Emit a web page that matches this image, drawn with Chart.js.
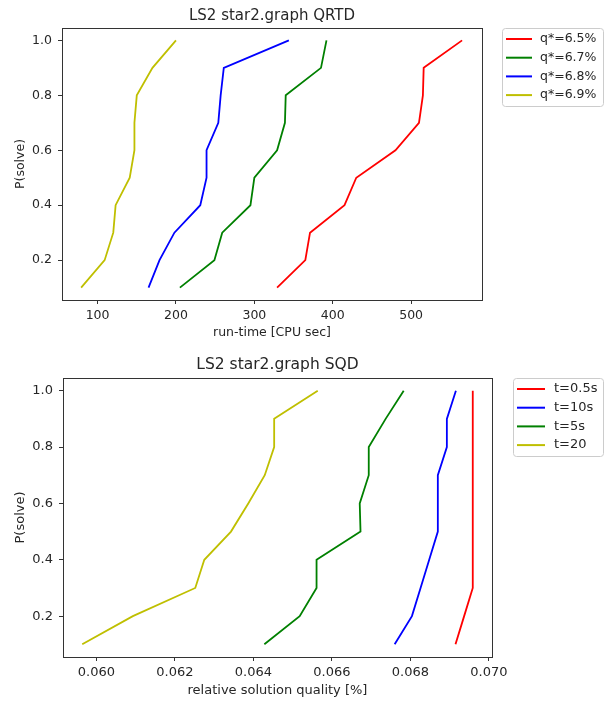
<!DOCTYPE html>
<html><head><meta charset="utf-8">
<script src="https://cdn.jsdelivr.net/npm/chart.js@4.4.1/dist/chart.umd.min.js"></script>
<style>
html,body{margin:0;padding:0;background:#fff;}
canvas{position:absolute;left:0;}
</style></head><body>
<canvas id="qrtd" width="608" height="350" style="top:0"></canvas>
<canvas id="sqd" width="608" height="352" style="top:350px"></canvas>
<script>
// P(solve) levels shared by every curve
const pLevels=[0.1,0.2,0.3,0.4,0.5,0.6,0.7,0.8,0.9,1.0];
const yTicks=[0.2,0.4,0.6,0.8,1.0];

// QRTD: run-time [CPU sec]
const qrtdLabels=['q*=6.5%','q*=6.7%','q*=6.8%','q*=6.9%'];
const q65=[329,365,371,415,430,480,510,515,516,565];
const q67=[205,249,259,295,300,329,339,340,385,392];
const q68=[165,179,198,231,239,239,254,257,261,344];
const q69=[79,109,120,123,141,147,147,150,170,200];
const qrtdTicks=[100,200,300,400,500];

// SQD: relative solution quality [%]
const sqdLabels=['t=0.5s','t=10s','t=5s','t=20'];
const t05=[0.06915,0.06937,0.06959,0.06959,0.06959,0.06959,0.06959,0.06959,0.06959,0.06959];
const t10=[0.06760,0.06804,0.06826,0.06848,0.06870,0.06870,0.06870,0.06893,0.06893,0.06916];
const t5=[0.06428,0.06518,0.06561,0.06561,0.06673,0.06671,0.06694,0.06694,0.06737,0.06783];
const t20=[0.05964,0.06093,0.06252,0.06275,0.06343,0.06387,0.06429,0.06453,0.06453,0.06564];
const sqdTicks=[0.060,0.062,0.064,0.066,0.068,0.070];

const RED='#ff0000',GREEN='#008000',BLUE='#0000ff',YEL='#bfbf00';
const FONT='"DejaVu Sans", sans-serif';
const TXT='#262626';

function series(label,xs,color){
  return {label,data:xs.map((x,i)=>({x,y:pLevels[i]})),borderColor:color,backgroundColor:color,
    borderWidth:1.8,showLine:true,pointRadius:0,tension:0,fill:false};
}

// frame, title and legend drawn over the chart area
const framePlugin={
  id:'framePlugin',
  afterDraw(chart,args,o){
    const {ctx,chartArea:a}=chart;
    ctx.save();
    ctx.strokeStyle='#333';ctx.lineWidth=1;
    ctx.strokeRect(Math.round(a.left)+0.5,Math.round(a.top)+0.5,Math.round(a.right-a.left),Math.round(a.bottom-a.top));
    ctx.fillStyle=TXT;ctx.font=o.titleSize+'px '+FONT;ctx.textAlign='center';ctx.textBaseline='middle';
    ctx.fillText(o.title,(a.left+a.right)/2,o.titleY);
    // legend box
    const L=o.legend;
    ctx.fillStyle='rgba(255,255,255,0.8)';ctx.strokeStyle='#cccccc';
    ctx.beginPath();ctx.roundRect(L.x+0.5,L.y+0.5,L.w,L.h,3);ctx.fill();ctx.stroke();
    ctx.font=o.size+'px '+FONT;ctx.textAlign='left';
    chart.data.datasets.forEach((d,i)=>{
      const y=L.y+L.first+i*L.step;
      ctx.strokeStyle=d.borderColor;ctx.lineWidth=2;
      ctx.beginPath();ctx.moveTo(L.x+L.lx0,y);ctx.lineTo(L.x+L.lx1,y);ctx.stroke();
      ctx.fillStyle=TXT;ctx.fillText(d.label,L.x+L.tx,y);
    });
    ctx.restore();
  }
};

function makeChart(id,datasets,xr,xTicks,xFmt,xTitle,pad,xH,opts){
  const f={family:FONT,size:opts.size};
  return new Chart(document.getElementById(id),{
    type:'scatter',
    data:{datasets},
    options:{
      responsive:false,animation:false,
      layout:{padding:pad},
      plugins:{legend:{display:false},tooltip:{enabled:false},framePlugin:opts},
      scales:{
        x:{type:'linear',min:xr[0],max:xr[1],
          afterBuildTicks:s=>{s.ticks=xTicks.map(v=>({value:v}));},
          afterFit:s=>{s.height=xH;},
          border:{display:false},
          grid:{drawOnChartArea:false,drawTicks:true,tickLength:4,color:'#333'},
          ticks:{color:TXT,font:f,padding:opts.xTickPad,maxRotation:0,autoSkip:false,callback:xFmt},
          title:{display:true,text:xTitle,color:TXT,font:f,padding:{top:0,bottom:opts.xTitlePad}}},
        y:{type:'linear',min:0.055,max:1.045,
          afterBuildTicks:s=>{s.ticks=yTicks.map(v=>({value:v}));},
          afterFit:s=>{s.width=opts.yW;},
          border:{display:false},
          grid:{drawOnChartArea:false,drawTicks:true,tickLength:4,color:'#333'},
          ticks:{color:TXT,font:f,padding:6,callback:v=>v.toFixed(1)},
          title:{display:true,text:'P(solve)',color:TXT,font:f,padding:{top:13,bottom:0}}}
      }
    },
    plugins:[framePlugin]
  });
}

makeChart('qrtd',
  [series(qrtdLabels[0],q65,RED),series(qrtdLabels[1],q67,GREEN),series(qrtdLabels[2],q68,BLUE),series(qrtdLabels[3],q69,YEL)],
  [54.6,590.4],qrtdTicks,v=>String(v),'run-time [CPU sec]',
  {top:28,left:0,right:126,bottom:0},50,
  {title:'LS2 star2.graph QRTD',titleY:16,titleSize:15,size:12.5,yW:62,xTitlePad:9.5,xTickPad:4,
   legend:{x:502,y:28,w:101,h:78,first:11,step:18.7,lx0:4,lx1:30,tx:38}});

makeChart('sqd',
  [series(sqdLabels[0],t05,RED),series(sqdLabels[1],t10,BLUE),series(sqdLabels[2],t5,GREEN),series(sqdLabels[3],t20,YEL)],
  [0.05915,0.07008],sqdTicks,v=>v.toFixed(3),'relative solution quality [%]',
  {top:28,left:0,right:116,bottom:0},45,
  {title:'LS2 star2.graph SQD',titleY:15,titleSize:15.5,size:13,yW:63,xTitlePad:3.7,xTickPad:4,
   legend:{x:513,y:28,w:90,h:78,first:11,step:18.7,lx0:4,lx1:32,tx:41}});
</script>
</body></html>
